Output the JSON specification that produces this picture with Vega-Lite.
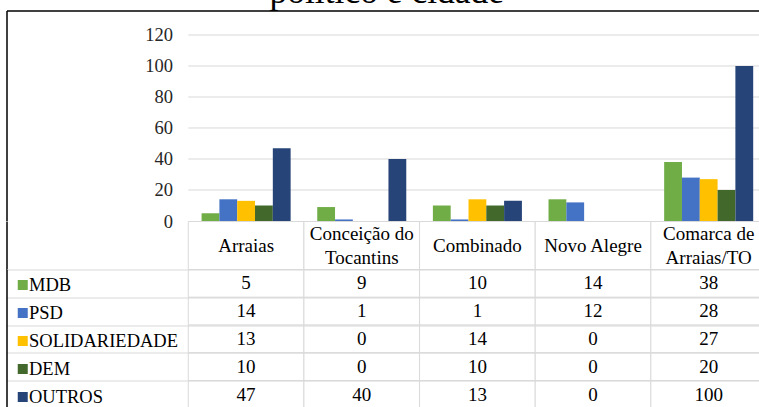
{
  "$schema": "https://vega.github.io/schema/vega-lite/v6.json",
  "background": "white",
  "autosize": {"type": "pad"},
  "padding": {"left": 6.5, "top": -25.5, "right": 0, "bottom": 0},
  "title": {"text": "político e cidade", "font": "Liberation Serif", "fontSize": 35.5, "fontWeight": "normal", "color": "#000000", "anchor": "middle", "baseline": "alphabetic", "offset": -28},
  "datasets": {
    "votes": [
      {"city": "Arraias", "party": "MDB", "value": 5},
      {"city": "Arraias", "party": "PSD", "value": 14},
      {"city": "Arraias", "party": "SOLIDARIEDADE", "value": 13},
      {"city": "Arraias", "party": "DEM", "value": 10},
      {"city": "Arraias", "party": "OUTROS", "value": 47},
      {"city": "Conceição do Tocantins", "party": "MDB", "value": 9},
      {"city": "Conceição do Tocantins", "party": "PSD", "value": 1},
      {"city": "Conceição do Tocantins", "party": "SOLIDARIEDADE", "value": 0},
      {"city": "Conceição do Tocantins", "party": "DEM", "value": 0},
      {"city": "Conceição do Tocantins", "party": "OUTROS", "value": 40},
      {"city": "Combinado", "party": "MDB", "value": 10},
      {"city": "Combinado", "party": "PSD", "value": 1},
      {"city": "Combinado", "party": "SOLIDARIEDADE", "value": 14},
      {"city": "Combinado", "party": "DEM", "value": 10},
      {"city": "Combinado", "party": "OUTROS", "value": 13},
      {"city": "Novo Alegre", "party": "MDB", "value": 14},
      {"city": "Novo Alegre", "party": "PSD", "value": 12},
      {"city": "Novo Alegre", "party": "SOLIDARIEDADE", "value": 0},
      {"city": "Novo Alegre", "party": "DEM", "value": 0},
      {"city": "Novo Alegre", "party": "OUTROS", "value": 0},
      {"city": "Comarca de Arraias/TO", "party": "MDB", "value": 38},
      {"city": "Comarca de Arraias/TO", "party": "PSD", "value": 28},
      {"city": "Comarca de Arraias/TO", "party": "SOLIDARIEDADE", "value": 27},
      {"city": "Comarca de Arraias/TO", "party": "DEM", "value": 20},
      {"city": "Comarca de Arraias/TO", "party": "OUTROS", "value": 100}
    ],
    "cities": [
      {"city": "Arraias"},
      {"city": "Conceição do Tocantins"},
      {"city": "Combinado"},
      {"city": "Novo Alegre"},
      {"city": "Comarca de Arraias/TO"}
    ],
    "header": [
      {"city": "Arraias", "line": "mid", "label": "Arraias"},
      {"city": "Conceição do Tocantins", "line": "top", "label": "Conceição do"},
      {"city": "Conceição do Tocantins", "line": "bot", "label": "Tocantins"},
      {"city": "Combinado", "line": "mid", "label": "Combinado"},
      {"city": "Novo Alegre", "line": "mid", "label": "Novo Alegre"},
      {"city": "Comarca de Arraias/TO", "line": "top", "label": "Comarca de"},
      {"city": "Comarca de Arraias/TO", "line": "bot", "label": "Arraias/TO"}
    ],
    "grid": [{"v": 20}, {"v": 40}, {"v": 60}, {"v": 80}, {"v": 100}, {"v": 120}]
  },
  "spacing": 0,
  "bounds": "flush",
  "vconcat": [
    {
      "width": 760,
      "height": 210.5,
      "layer": [
        {
          "data": {"name": "grid"},
          "mark": {"type": "rule", "color": "#d9d9d9", "strokeWidth": 1},
          "encoding": {
            "y": {"field": "v", "type": "quantitative", "scale": {"domain": [0, 135.8], "nice": false, "zero": true},
              "axis": {"orient": "left", "values": [0, 20, 40, 60, 80, 100, 120], "grid": false, "domain": true, "domainColor": "#000000", "domainWidth": 1.5, "ticks": false, "tickSize": 0, "labelPadding": -166, "labelAlign": "right", "labelBaseline": "middle", "labelFlush": false, "labelOverlap": false, "labelFont": "Liberation Serif", "labelFontSize": 18.5, "labelColor": "#262626", "title": null}},
            "x": {"datum": "Arraias", "type": "nominal", "bandPosition": 0,
              "scale": {"domain": ["Arraias", "Conceição do Tocantins", "Combinado", "Novo Alegre", "Comarca de Arraias/TO"], "paddingInner": 0, "paddingOuter": 0.786, "align": 1},
              "axis": {"orient": "top", "labels": false, "ticks": false, "grid": false, "domain": true, "domainColor": "#000000", "domainWidth": 1.5, "title": null}},
            "x2": {"value": "width"}
          }
        },
        {
          "data": {"name": "votes"},
          "mark": {"type": "bar"},
          "encoding": {
            "x": {"field": "city", "type": "nominal",
              "scale": {"domain": ["Arraias", "Conceição do Tocantins", "Combinado", "Novo Alegre", "Comarca de Arraias/TO"], "paddingInner": 0, "paddingOuter": 0.786, "align": 1},
              "axis": {"orient": "top", "labels": false, "ticks": false, "grid": false, "domain": true, "domainColor": "#000000", "domainWidth": 1.5, "title": null}},
            "xOffset": {"field": "party", "type": "nominal", "scale": {"domain": ["MDB", "PSD", "SOLIDARIEDADE", "DEM", "OUTROS"], "paddingInner": 0, "paddingOuter": 0.747}},
            "y": {"field": "value", "type": "quantitative", "scale": {"domain": [0, 135.8], "nice": false, "zero": true},
              "axis": {"orient": "left", "values": [0, 20, 40, 60, 80, 100, 120], "grid": false, "domain": true, "domainColor": "#000000", "domainWidth": 1.5, "ticks": false, "tickSize": 0, "labelPadding": -166, "labelAlign": "right", "labelBaseline": "middle", "labelFlush": false, "labelOverlap": false, "labelFont": "Liberation Serif", "labelFontSize": 18.5, "labelColor": "#262626", "title": null}},
            "color": {"field": "party", "type": "nominal",
              "scale": {"domain": ["MDB", "PSD", "SOLIDARIEDADE", "DEM", "OUTROS"], "range": ["#70ad47", "#4472c4", "#ffc000", "#43682b", "#264478"]},
              "legend": {"orient": "none", "legendX": 7, "legendY": 260.5, "title": null, "direction": "vertical", "symbolType": "square", "symbolSize": 100, "symbolStrokeWidth": 0, "symbolOpacity": 1, "labelFont": "Liberation Serif", "labelFontSize": 18.5, "labelColor": "#000000", "labelOffset": -3, "rowPadding": 0, "clipHeight": 27.8, "padding": 0}}
          }
        }
      ]
    },
    {
      "width": 760,
      "height": 48,
      "encoding": {
        "x": {"field": "city", "type": "nominal",
          "scale": {"domain": ["Arraias", "Conceição do Tocantins", "Combinado", "Novo Alegre", "Comarca de Arraias/TO"], "paddingInner": 0, "paddingOuter": 0.786, "align": 1},
          "axis": null}
      },
      "layer": [
        {"data": {"name": "cities"}, "mark": {"type": "rect", "fill": "white", "stroke": "#d9d9d9", "strokeWidth": 1}},
        {"data": {"name": "header"},
          "mark": {"type": "text", "font": "Liberation Serif", "fontSize": 19, "color": "#000000", "baseline": "middle"},
          "encoding": {
            "y": {"field": "line", "type": "nominal", "scale": {"type": "point", "domain": ["top", "mid", "bot"], "padding": 1.286},
              "axis": {"orient": "left", "labels": false, "ticks": false, "grid": false, "domain": true, "domainColor": "#000000", "domainWidth": 1.5, "title": null}},
            "text": {"field": "label", "type": "nominal"}}}
      ]
    },
    {
      "width": 760,
      "height": 139,
      "data": {"name": "votes"},
      "encoding": {
        "x": {"field": "city", "type": "nominal",
          "scale": {"domain": ["Arraias", "Conceição do Tocantins", "Combinado", "Novo Alegre", "Comarca de Arraias/TO"], "paddingInner": 0, "paddingOuter": 0.786, "align": 1},
          "axis": null},
        "y": {"field": "party", "type": "nominal", "scale": {"domain": ["MDB", "PSD", "SOLIDARIEDADE", "DEM", "OUTROS"], "paddingInner": 0, "paddingOuter": 0},
          "axis": {"orient": "left", "labels": false, "ticks": false, "grid": true, "gridColor": "#d9d9d9", "gridWidth": 1, "tickBand": "extent", "domain": true, "domainColor": "#000000", "domainWidth": 1.5, "title": null}}
      },
      "layer": [
        {"mark": {"type": "rect", "fill": "white", "stroke": "#d9d9d9", "strokeWidth": 1}},
        {"mark": {"type": "text", "font": "Liberation Serif", "fontSize": 19, "color": "#000000", "baseline": "middle"},
          "encoding": {"text": {"field": "value", "type": "quantitative"}}}
      ]
    }
  ],
  "config": {"view": {"stroke": null}}
}
